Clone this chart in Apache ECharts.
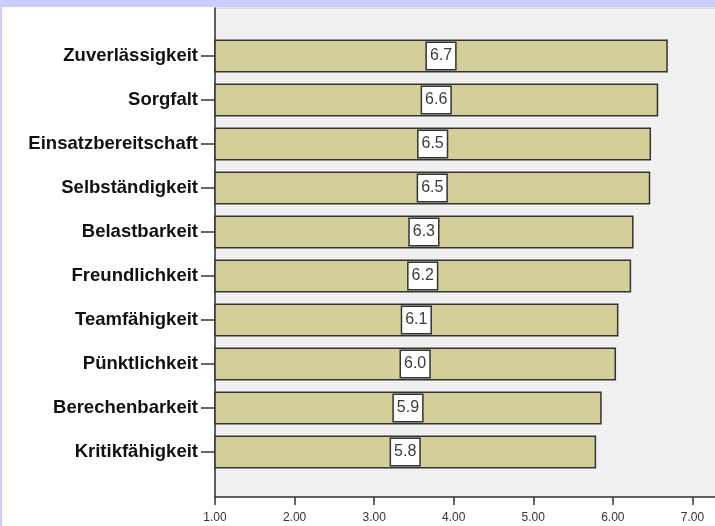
<!DOCTYPE html>
<html>
<head>
<meta charset="utf-8">
<script src="https://cdn.jsdelivr.net/npm/echarts@6/dist/echarts.min.js"></script>
<style>
html,body{margin:0;padding:0;background:#fff;}
#c{width:715px;height:526px;}
</style>
</head>
<body>
<div id="c"></div>
<script>
var categories = ['Zuverlässigkeit','Sorgfalt','Einsatzbereitschaft','Selbständigkeit','Belastbarkeit','Freundlichkeit','Teamfähigkeit','Pünktlichkeit','Berechenbarkeit','Kritikfähigkeit'];
var values = [6.69, 6.57, 6.48, 6.47, 6.26, 6.23, 6.07, 6.04, 5.86, 5.79];
var xMin = 1, xMax = 8, xInterval = 1;

var chart = echarts.init(document.getElementById('c'), null, {renderer:'canvas'});
chart.setOption({
  backgroundColor: '#ffffff',
  animation: false,
  graphic: [
    {type:'rect', shape:{x:0,y:0,width:715,height:7}, style:{fill:'#ccccff'}, z:100},
    {type:'rect', shape:{x:0,y:0,width:2,height:526}, style:{fill:'#ccccff'}, z:100}
  ],
  grid: [
    {left:215, width:557, top:8, bottom:29, show:true, backgroundColor:'#f0f0f0', borderColor:'#c8c8c8', borderWidth:1, containLabel:false, outerBoundsMode:'none'},
    {left:215, width:557, top:34, height:440, containLabel:false, outerBoundsMode:'none'}
  ],
  xAxis: [
    {gridIndex:0, type:'value', min:xMin, max:xMax, interval:xInterval,
     axisLine:{show:true, lineStyle:{color:'#333', width:1.5}},
     axisTick:{show:true, length:8, lineStyle:{color:'#333', width:1.5}},
     splitLine:{show:false},
     axisLabel:{color:'#333', fontSize:12, fontFamily:'Liberation Sans, Arial, sans-serif', margin:15,
       formatter:function(v){ return v.toFixed(2); }}},
    {gridIndex:1, type:'value', min:xMin, max:xMax, interval:xInterval, show:false}
  ],
  yAxis: [
    {gridIndex:0, type:'value', min:0, max:1,
     axisLine:{show:true, lineStyle:{color:'#333', width:1.5}},
     axisTick:{show:false}, axisLabel:{show:false}, splitLine:{show:false}},
    {gridIndex:1, type:'category', data:categories, inverse:true,
     axisLine:{show:false},
     axisTick:{show:true, alignWithLabel:true, length:14, lineStyle:{color:'#333', width:1.5}},
     axisLabel:{color:'#111', fontSize:18.5, fontWeight:'bold', fontFamily:'Liberation Sans, Arial, sans-serif', margin:17},
     splitLine:{show:false}}
  ],
  series: [{
    type:'bar', xAxisIndex:1, yAxisIndex:1,
    data: values,
    barWidth: 33,
    itemStyle:{color:'#d4cf99', borderColor:'#333', borderWidth:1.5},
    label:{show:true, position:'inside', color:'#3a3a3a', fontSize:16,
      fontFamily:'Liberation Sans, Arial, sans-serif',
      backgroundColor:'#ffffff', borderColor:'#333', borderWidth:1.5, padding:[5,3,5,3],
      formatter:function(p){ return p.value.toFixed(1); }}
  }]
});
</script>
</body>
</html>
